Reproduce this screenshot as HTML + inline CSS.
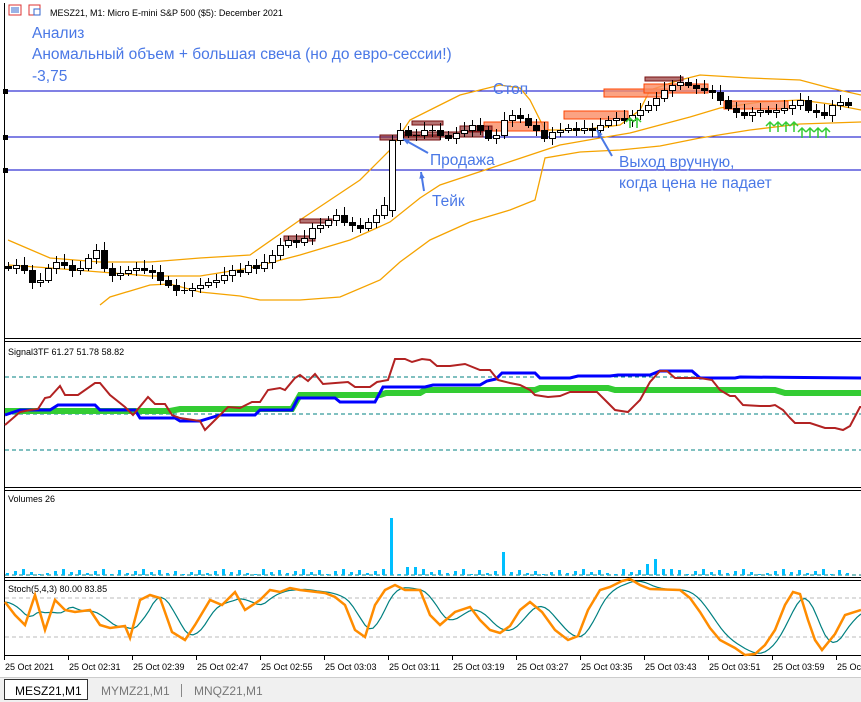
<!DOCTYPE html>
<html><head><meta charset="utf-8"><style>
html,body{margin:0;padding:0;background:#fff;width:861px;height:702px;overflow:hidden;font-family:"Liberation Sans","DejaVu Sans",sans-serif}
</style></head><body>
<svg id="s" width="861" height="702" xmlns="http://www.w3.org/2000/svg" style="position:absolute;left:0;top:0"></svg>
<script>
var o='';
function L(pts,c,w,extra){o+='<polyline fill="none" stroke="'+c+'" stroke-width="'+w+'" '+(extra||'')+' points="'+pts.map(function(p){return p[0]+','+p[1]}).join(' ')+'"/>';}
function R(x,y,w,h,f,s){o+='<rect x="'+x+'" y="'+y+'" width="'+w+'" height="'+h+'" fill="'+f+'"'+(s?' stroke="'+s+'"':'')+'/>';}
function T(x,y,t,sz,c,extra){o+='<text x="'+x+'" y="'+y+'" font-size="'+sz+'" fill="'+c+'" '+(extra||'')+'>'+t+'</text>';}
R(0,0,861,702,'#fff');
[91,137,170].forEach(function(y){o+='<line x1="4" x2="861" y1="'+y+'" y2="'+y+'" stroke="#0000c8" stroke-width="1"/>';R(3,y-2,5,5,'#000');});
L([[8,240],[50,258],[100,262],[150,262],[200,258],[250,255],[300,220],[360,180],[390,150],[410,120],[440,105],[460,95],[500,85],[520,88],[530,100],[545,130],[580,130],[620,125],[640,110],[650,90],[680,80],[700,75],[750,78],[800,80],[830,88],[861,95]],'#f5a300',1.3);
L([[8,265],[50,268],[100,272],[150,276],[200,276],[250,268],[300,255],[350,240],[390,222],[420,198],[440,185],[470,175],[500,165],[530,155],[560,145],[600,138],[630,133],[660,125],[690,117],[720,108],[760,102],[800,100],[830,104],[861,110]],'#f5a300',1.3);
L([[100,305],[110,297],[150,285],[170,284],[200,292],[240,296],[260,300],[300,300],[340,297],[380,280],[400,262],[430,240],[470,222],[510,210],[535,200],[545,158],[580,152],[620,150],[660,146],[700,138],[750,130],[800,124],[861,122]],'#f5a300',1.3);
function RL(x1,y1,x2,y2){R(x1,y1,x2-x1,y2-y1,'rgba(250,140,100,0.8)','#ff4500');}
function RD(x1,y1,x2,y2){R(x1,y1,x2-x1,y2-y1,'rgba(140,40,40,0.65)','#7a1010');}
RL(484,122,548,131);RL(564,111,628,119);RL(604,89,668,97);RL(644,84,708,93);RL(724,101,788,109);
RD(645,77,683,81);RD(412,121,443,125);RD(460,126,492,131);RD(404,132,483,137);RD(380,135,440,140);RD(300,219,332,223);RD(284,236,315,241);
var c=[268,265,270,282,280,268,262,265,270,268,258,250,268,275,273,270,268,270,272,280,285,290,290,288,285,282,280,275,270,272,265,268,262,255,245,240,242,238,228,225,220,215,222,225,228,222,215,205,140,130,135,135,130,130,135,138,133,130,125,130,138,135,120,115,118,125,130,138,132,130,128,130,128,130,125,120,118,120,115,110,105,98,90,85,82,85,88,90,92,100,108,112,115,112,110,112,110,108,105,100,110,112,115,105,102,105];
for(var i=0;i<c.length;i++){var x=8+8*i,op=i?c[i-1]:266,cl=c[i];if(i==48)op=210;
var t=Math.min(op,cl),b=Math.max(op,cl);var hi=t-4-(i*7%5),lo=b+3+(i*3%5);
o+='<line x1="'+(x+0.5)+'" x2="'+(x+0.5)+'" y1="'+hi+'" y2="'+lo+'" stroke="#000"/>';
if(b-t<1)o+='<line x1="'+(x-3)+'" x2="'+(x+4)+'" y1="'+(t+0.5)+'" y2="'+(t+0.5)+'" stroke="#000"/>';
else R(x-2.5,t+0.5,6,b-t,cl<op?'#fff':'#000','#000');}
[630,637,770,778,786,794,802,810,818,826].forEach(function(x,k){var y=k<2?118:(k<6?122:128);o+='<path d="M'+x+' '+(y+10)+'V'+y+'M'+(x-4)+' '+(y+4)+'L'+x+' '+y+'L'+(x+4)+' '+(y+4)+'" stroke="#3c3" stroke-width="1.5" fill="none"/>';});
var bl='#4a78e6';
T(32,38,'Анализ',15.5,bl);T(32,59,'Аномальный объем + большая свеча (но до евро-сессии!)',15.5,bl);T(32,81,'-3,75',15.5,bl);
T(493,94,'Стоп',15.5,bl);T(430,165,'Продажа',15.5,bl);T(432,206,'Тейк',15.5,bl);T(619,167,'Выход вручную,',15.5,bl);T(619,188,'когда цена не падает',15.5,bl);
function A(x1,y1,x2,y2){o+='<line x1="'+x1+'" y1="'+y1+'" x2="'+x2+'" y2="'+y2+'" stroke="'+bl+'" stroke-width="2"/>';var a=Math.atan2(y2-y1,x2-x1);o+='<path d="M'+x2+' '+y2+'L'+(x2-7*Math.cos(a-0.4))+' '+(y2-7*Math.sin(a-0.4))+'L'+(x2-7*Math.cos(a+0.4))+' '+(y2-7*Math.sin(a+0.4))+'Z" fill="'+bl+'"/>';}
A(428,153,403,139);A(424,191,421,172);A(612,156,597,130);
R(9,5,12,10,'#fff','#d33');o+='<path d="M11 8h8M11 10h8M11 12h8" stroke="#36c"/>';R(29,5,11,10,'#fff','#d33');R(34,9,6,6,'#fff','#36c');
T(50,16,'MESZ21, M1:  Micro E-mini S&amp;P 500 ($5): December 2021',9,'#000');
[338,341,487,490,577,580,655].forEach(function(y){o+='<line x1="4" x2="861" y1="'+(y+0.5)+'" y2="'+(y+0.5)+'" stroke="#000"/>';});
o+='<line x1="4.5" x2="4.5" y1="3" y2="656" stroke="#000"/>';
[377,414,450].forEach(function(y){o+='<line x1="5" x2="861" y1="'+y+'" y2="'+y+'" stroke="#008080" stroke-dasharray="4,3"/>';});
T(8,355,'Signal3TF 61.27 51.78 58.82',9,'#000');
L([[5,411],[170,411],[180,409],[292,409],[300,395],[380,395],[386,393],[420,393],[425,390],[535,390],[540,388],[608,388],[615,390],[775,390],[785,393],[861,393]],'#33cc33',6);
L([[5,415],[20,410],[50,410],[58,405],[95,405],[100,410],[135,410],[140,418],[175,418],[180,421],[200,421],[220,415],[255,415],[260,410],[292,410],[298,398],[335,398],[340,402],[375,402],[383,387],[425,387],[433,385],[480,385],[487,381],[496,379],[502,373],[535,373],[540,378],[570,378],[578,376],[610,376],[618,375],[650,375],[660,371],[692,371],[700,378],[735,378],[740,377],[861,378]],'#0000ff',3);
L([[5,425],[20,412],[30,410],[38,409],[45,398],[50,397],[60,386],[65,395],[78,395],[95,383],[100,383],[110,395],[125,407],[133,415],[148,397],[155,404],[165,404],[172,415],[180,418],[200,421],[205,430],[215,420],[228,407],[240,408],[252,402],[260,402],[268,390],[280,388],[285,390],[295,378],[300,375],[308,381],[315,374],[323,384],[348,382],[355,387],[370,387],[377,382],[388,380],[395,359],[405,359],[412,362],[422,359],[430,360],[437,366],[450,366],[465,364],[480,370],[490,370],[498,380],[510,383],[520,385],[530,390],[535,395],[548,397],[560,396],[570,392],[597,392],[605,400],[615,410],[628,412],[640,400],[650,382],[660,371],[667,371],[675,378],[700,378],[712,380],[720,390],[730,396],[735,396],[743,405],[760,406],[770,406],[775,405],[783,410],[790,418],[795,423],[810,423],[825,428],[835,428],[843,430],[850,426],[860,407],[861,407]],'#b22222',2);
T(8,502,'Volumes 26',9,'#000');
o+='<line x1="5" x2="861" y1="575" y2="575" stroke="#008080" stroke-dasharray="4,3"/>';
for(var i=0;i<106;i++){var x=6+8*i,h=2+((i*7)%5);if(i==48)h=57;if(i==49)h=19;if(i==50||i==51)h=8;if(i==62)h=23;if(i==80)h=11;if(i==81)h=16;if(i==82||i==83)h=6;if(i%9==4)h=1;R(x,575-h,3,h,'#00bfff');}
T(8,592,'Stoch(5,4,3) 80.00 83.85',9,'#000');
[598,637].forEach(function(y){o+='<line x1="5" x2="861" y1="'+y+'" y2="'+y+'" stroke="#bbb" stroke-dasharray="4,3"/>';});
var so=[[5,602],[15,615],[25,625],[35,595],[45,630],[55,600],[65,610],[75,612],[90,610],[100,625],[110,628],[125,626],[130,638],[140,600],[150,595],[160,598],[172,632],[185,640],[195,625],[210,600],[222,605],[235,592],[245,610],[260,600],[270,590],[280,592],[290,588],[300,590],[325,593],[335,597],[345,605],[355,630],[365,637],[375,605],[385,590],[395,585],[405,590],[420,590],[430,615],[440,625],[455,612],[470,607],[480,620],[490,630],[500,633],[510,626],[520,610],[530,602],[542,612],[555,630],[568,640],[578,636],[588,610],[600,590],[610,587],[622,581],[630,579],[640,585],[650,589],[680,590],[690,598],[700,612],[710,628],[720,640],[735,648],[745,655],[755,654],[765,645],[775,630],[785,605],[793,592],[800,594],[808,620],[815,640],[822,650],[835,634],[845,615],[861,610]];
function at(x){for(var k=1;k<so.length;k++)if(so[k][0]>=x){var a=so[k-1],b=so[k];return a[1]+(b[1]-a[1])*(x-a[0])/(b[0]-a[0]);}return so[so.length-1][1];}
var tl=[];for(var x=5;x<=861;x+=4){var s=0,n=0;for(var d=0;d<=20;d+=2){s+=at(Math.max(5,x-d));n++;}tl.push([x,(s/n).toFixed(1)]);}
L(tl,'#008080',1.2);L(so,'#ff8c00',2.5);
var lab=['25 Oct 2021','25 Oct 02:31','25 Oct 02:39','25 Oct 02:47','25 Oct 02:55','25 Oct 03:03','25 Oct 03:11','25 Oct 03:19','25 Oct 03:27','25 Oct 03:35','25 Oct 03:43','25 Oct 03:51','25 Oct 03:59','25 Oct 04:07'];
lab.forEach(function(t,k){var x=4+64*k;o+='<line x1="'+(x+0.5)+'" x2="'+(x+0.5)+'" y1="656" y2="660" stroke="#000"/>';T(x+1,670,t,9,'#000');});
R(0,677,861,25,'#f0f0f0');
o+='<line x1="0" x2="861" y1="677.5" y2="677.5" stroke="#ccc"/>';
R(4.5,679.5,83,20,'#fff','#333');
T(15,695,'MESZ21,M1',12,'#000');T(101,695,'MYMZ21,M1',12,'#777');T(194,695,'MNQZ21,M1',12,'#777');
o+='<line x1="181.5" x2="181.5" y1="684" y2="697" stroke="#888"/>';
document.getElementById('s').innerHTML=o;
</script>
</body></html>
